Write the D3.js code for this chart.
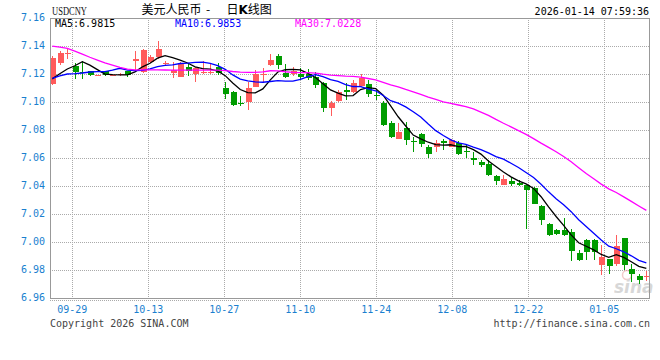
<!DOCTYPE html>
<html>
<head>
<meta charset="utf-8">
<script src="https://cdn.jsdelivr.net/npm/d3@7"></script>
<style>
  html, body { margin: 0; padding: 0; background: #fff; }
  svg { display: block; }
  text { font-family: 'DejaVu Sans Mono', monospace; font-size: 10px; }
</style>
</head>
<body>
<div id="container"></div>
<script>
// trading days shown: weekdays 2025-09-24 .. 2026-01-13
const firstDay = new Date(2025, 8, 24);
const lastDay = new Date(2026, 0, 14);
const tickLabels = ['09-29', '10-13', '10-27', '11-10', '11-24', '12-08', '12-22', '01-05'];

const opens = [
  7.1126, 7.1276, 7.1340, 7.1257, 7.1215, 7.1220, 7.1188, 7.1220, 7.1190, 7.1190,
  7.1220, 7.1293, 7.1215, 7.1285, 7.1320, 7.1274, 7.1210, 7.1181, 7.1252, 7.1200,
  7.1205, 7.1207, 7.1252, 7.1102, 7.1074, 7.0995, 7.1002, 7.1110, 7.1190, 7.1267,
  7.1329, 7.1210, 7.1200, 7.1200, 7.1200, 7.1181, 7.1133, 7.0957, 7.1007, 7.1083,
  7.1074, 7.1117, 7.1126, 7.1050, 7.0995, 7.0852, 7.0736, 7.0817, 7.0724, 7.0771,
  7.0681, 7.0676, 7.0724, 7.0681, 7.0705, 7.0648, 7.0600, 7.0571, 7.0560, 7.0470,
  7.0405, 7.0433, 7.0419, 7.0405, 7.0386, 7.0257, 7.0131, 7.0088, 7.0083, 7.0071,
  6.9921, 7.0017, 7.0017, 6.9838, 6.9881, 6.9845, 7.0029, 6.9810, 6.9755, 6.9748,
];
const highs = [
  7.1328, 7.1367, 7.1376, 7.1282, 7.1290, 7.1225, 7.1196, 7.1224, 7.1197, 7.1210,
  7.1225, 7.1364, 7.1381, 7.1338, 7.1436, 7.1290, 7.1288, 7.1286, 7.1276, 7.1252,
  7.1293, 7.1276, 7.1280, 7.1145, 7.1079, 7.1043, 7.1145, 7.1229, 7.1240, 7.1343,
  7.1343, 7.1271, 7.1252, 7.1240, 7.1236, 7.1217, 7.1145, 7.1005, 7.1086, 7.1133,
  7.1157, 7.1198, 7.1157, 7.1086, 7.1010, 7.0867, 7.0852, 7.0860, 7.0752, 7.0781,
  7.0693, 7.0729, 7.0733, 7.0733, 7.0720, 7.0693, 7.0643, 7.0583, 7.0583, 7.0481,
  7.0476, 7.0464, 7.0440, 7.0410, 7.0393, 7.0262, 7.0133, 7.0095, 7.0171, 7.0095,
  6.9940, 7.0024, 7.0024, 6.9976, 6.9881, 7.0048, 7.0030, 6.9845, 6.9774, 6.9790,
];
const lows = [
  7.1119, 7.1267, 7.1305, 7.1162, 7.1162, 7.1185, 7.1186, 7.1186, 7.1186, 7.1185,
  7.1182, 7.1220, 7.1205, 7.1280, 7.1305, 7.1257, 7.1174, 7.1179, 7.1188, 7.1140,
  7.1198, 7.1200, 7.1193, 7.1021, 7.0971, 7.0971, 7.0943, 7.1105, 7.1133, 7.1260,
  7.1233, 7.1170, 7.1186, 7.1157, 7.1157, 7.1098, 7.0931, 7.0898, 7.1002, 7.1014,
  7.1062, 7.1110, 7.1038, 7.1014, 7.0831, 7.0740, 7.0734, 7.0693, 7.0645, 7.0676,
  7.0602, 7.0645, 7.0657, 7.0676, 7.0620, 7.0600, 7.0548, 7.0536, 7.0472, 7.0410,
  7.0405, 7.0400, 7.0400, 7.0095, 7.0271, 7.0120, 7.0043, 7.0052, 7.0043, 6.9862,
  6.9862, 6.9869, 6.9869, 6.9762, 6.9774, 6.9829, 6.9798, 6.9714, 6.9702, 6.9719,
];
const closes = [
  7.1316, 7.1352, 7.1352, 7.1214, 7.1208, 7.1190, 7.1193, 7.1190, 7.1195, 7.1198,
  7.1190, 7.1304, 7.1370, 7.1323, 7.1380, 7.1279, 7.1229, 7.1281, 7.1224, 7.1245,
  7.1212, 7.1214, 7.1210, 7.1060, 7.0980, 7.0983, 7.1102, 7.1202, 7.1202, 7.1300,
  7.1267, 7.1181, 7.1218, 7.1181, 7.1174, 7.1121, 7.0960, 7.0995, 7.1069, 7.1074,
  7.1133, 7.1174, 7.1060, 7.1041, 7.0836, 7.0748, 7.0788, 7.0729, 7.0717, 7.0700,
  7.0629, 7.0705, 7.0710, 7.0729, 7.0630, 7.0643, 7.0588, 7.0548, 7.0481, 7.0433,
  7.0452, 7.0414, 7.0405, 7.0369, 7.0274, 7.0155, 7.0052, 7.0060, 7.0052, 6.9933,
  6.9874, 6.9929, 6.9929, 6.9890, 6.9829, 6.9971, 6.9833, 6.9774, 6.9726, 6.9755,
];
// closes before the first visible day, needed for the moving averages
const priorCloses = [
  7.159, 7.162, 7.180, 7.186, 7.184, 7.179, 7.179, 7.168, 7.168, 7.158,
  7.145, 7.138, 7.133, 7.139, 7.129, 7.124, 7.129, 7.123, 7.125, 7.122,
  7.118, 7.121, 7.119, 7.116, 7.112, 7.117, 7.118, 7.110, 7.106,
];
const maPeriods = [5, 10, 30];
const maLatest = [6.9815, 6.9853, 7.0228];
const maColors = ['#000000', '#0000ff', '#ff00ff'];

const width = 660; const height = 360;
const plotL = 50; const plotR = 649; const plotT = 18; const plotB = 298;
const upColor = '#ff5b5b'; const downColor = '#009c00';
const labelBlue = '#1a7fcf';

const svg = d3.select('#container').append('svg')
    .attr('width', width)
    .attr('height', height);

const days = d3.timeDay.range(firstDay, lastDay).filter((d) => d.getDay() % 6 !== 0);
const fmt = d3.timeFormat('%m-%d');
const dates = days.map(fmt);

const x = d3.scaleBand().domain(dates).range([48.5, 650.1]);
const cx = (i) => x(dates[i]) + x.bandwidth() / 2;
const y = d3.scaleLinear().domain([6.96, 7.16]).range([plotB, plotT]);
const gridX = d3.scalePoint().domain(tickLabels).range([72.3, 604.3]);

const crisp = (v) => Math.round(v) + 0.5;

// grid
const grid = svg.append('g').attr('stroke', '#aaa').attr('stroke-dasharray', '1,1').attr('shape-rendering', 'crispEdges');
y.ticks(10).filter((t) => t > 6.961 && t < 7.159).forEach((t) => {
  grid.append('line').attr('x1', plotL).attr('x2', plotR).attr('y1', crisp(y(t))).attr('y2', crisp(y(t)));
});
tickLabels.forEach((t) => {
  grid.append('line').attr('x1', crisp(gridX(t))).attr('x2', crisp(gridX(t))).attr('y1', plotT).attr('y2', plotB);
});
grid.append('line').attr('x1', plotL).attr('x2', plotR).attr('y1', plotB + 2.5).attr('y2', plotB + 2.5);

// watermark
const wm = svg.append('g').attr('opacity', 0.55);
wm.append('circle').attr('cx', 627).attr('cy', 275).attr('r', 4.5).attr('fill', 'none').attr('stroke', '#e9a0a0').attr('stroke-width', 1.5);
wm.append('text').attr('x', 614).attr('y', 293).text('sina')
    .style('font-family', '"DejaVu Sans", sans-serif').style('font-size', '17px')
    .style('font-style', 'italic').style('font-weight', 'bold').attr('fill', '#b8b8b8');

// plot clip
svg.append('clipPath').attr('id', 'plot').append('rect')
    .attr('x', plotL).attr('y', plotT).attr('width', plotR - plotL).attr('height', plotB - plotT);
const plot = svg.append('g').attr('clip-path', 'url(#plot)');

// candles
const candles = plot.append('g').attr('shape-rendering', 'crispEdges').selectAll('g')
    .data(closes.map((c, i) => ({i: i, o: opens[i], h: highs[i], l: lows[i], c: c})))
    .enter().append('g')
    .attr('fill', (d) => (d.c >= d.o ? upColor : downColor))
    .attr('stroke', (d) => (d.c >= d.o ? upColor : downColor));

candles.append('line')
    .attr('x1', (d) => Math.round(cx(d.i)) + 0.5)
    .attr('x2', (d) => Math.round(cx(d.i)) + 0.5)
    .attr('y1', (d) => y(d.h))
    .attr('y2', (d) => y(d.l));

candles.append('rect')
    .attr('stroke', 'none')
    .attr('x', (d) => Math.round(cx(d.i)) - 2)
    .attr('width', 6)
    .attr('y', (d) => y(Math.max(d.o, d.c)))
    .attr('height', (d) => Math.max(1, Math.abs(y(d.o) - y(d.c))));

// moving averages
const allCloses = priorCloses.concat(closes);
const offset = priorCloses.length;
const movingAverage = (n) => closes.map((c, i) => d3.mean(allCloses.slice(offset + i - n + 1, offset + i + 1)));
const line = d3.line().x((d, i) => cx(i)).y((d) => y(d));

maPeriods.forEach((n, k) => {
  plot.append('path')
      .datum(movingAverage(n))
      .attr('fill', 'none')
      .attr('stroke', maColors[k])
      .attr('stroke-width', 1.3)
      .attr('d', line);
});

// frame
const frame = svg.append('g').attr('stroke', '#999').attr('shape-rendering', 'crispEdges').attr('fill', 'none');
frame.append('rect').attr('x', plotL + 0.5).attr('y', plotT + 0.5).attr('width', plotR - plotL).attr('height', plotB - plotT);

// y labels
svg.append('g').selectAll('text').data(y.ticks(10)).enter().append('text')
    .attr('x', 45).attr('y', (d) => y(d) - 1).attr('dy', '0.35em')
    .attr('text-anchor', 'end').attr('fill', labelBlue)
    .text(d3.format('.2f'));

// x labels
svg.append('g').selectAll('text').data(tickLabels).enter().append('text')
    .attr('x', (d) => gridX(d)).attr('y', 312.5)
    .attr('text-anchor', 'middle').attr('fill', labelBlue)
    .text((d) => d);

// header
svg.append('text').attr('x', 52).attr('y', 15).text('USDCNY')
    .attr('textLength', 35).attr('lengthAdjust', 'spacingAndGlyphs')
    .style('font-family', '"Liberation Serif", serif').style('font-size', '12px').attr('fill', '#111');

const title = svg.append('text').attr('y', 14)
    .style('font-family', '"Noto Sans CJK SC", sans-serif').style('font-size', '12px').attr('fill', '#000');
title.append('tspan').attr('x', 141.5).text('美元人民币');
title.append('tspan').attr('x', 206).text('-');
title.append('tspan').attr('x', 226.5).text('日');
title.append('tspan').style('font-weight', 'bold').style('font-family', '"DejaVu Sans", sans-serif').text('K');
title.append('tspan').text('线图');

svg.append('text').attr('x', 649).attr('y', 15).attr('text-anchor', 'end').attr('fill', '#000')
    .text('2026-01-14 07:59:36');

maPeriods.forEach((n, k) => {
  svg.append('text').attr('x', 55 + 120 * k).attr('y', 26.5).attr('fill', maColors[k])
      .text('MA' + n + ':' + d3.format('.4f')(maLatest[k]));
});

// footer
svg.append('text').attr('x', 50).attr('y', 327).attr('fill', '#444').text('Copyright 2026 SINA.COM');
svg.append('text').attr('x', 650).attr('y', 327).attr('text-anchor', 'end').attr('fill', '#444')
    .text('http://finance.sina.com.cn');
</script>
</body>
</html>
